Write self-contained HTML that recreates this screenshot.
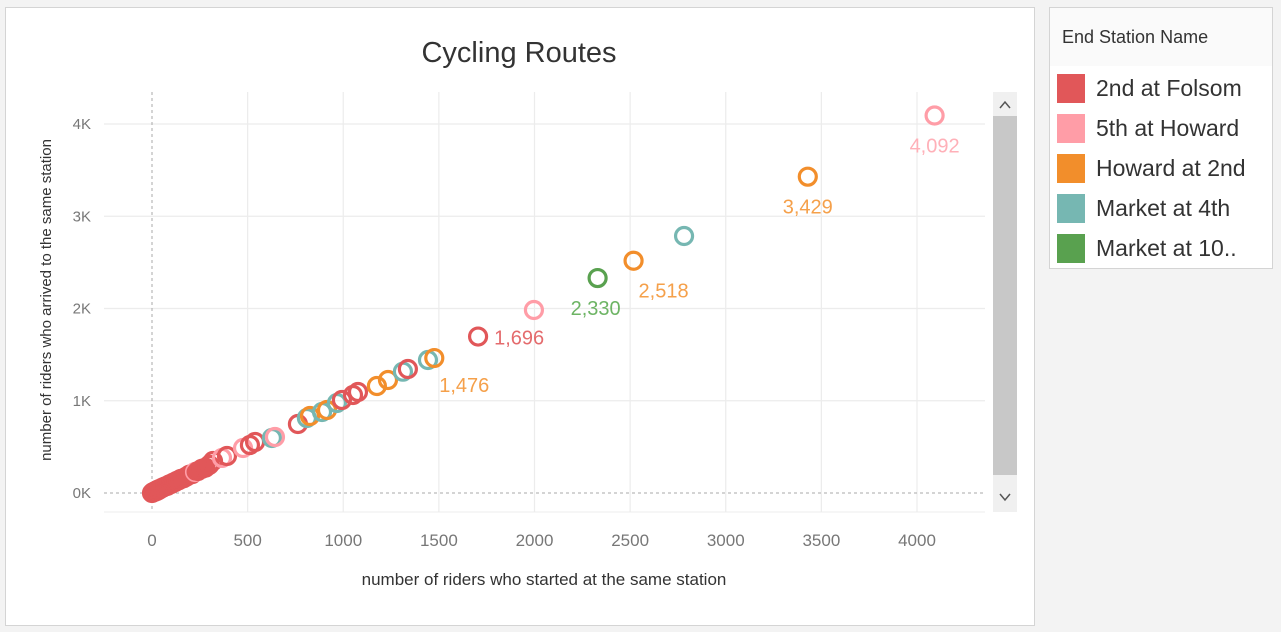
<!DOCTYPE html>
<html><head><meta charset="utf-8">
<style>
body{margin:0;width:1281px;height:632px;background:#f3f3f3;font-family:"Liberation Sans Narrow","Liberation Sans",sans-serif;overflow:hidden;position:relative}
#panel{position:absolute;left:5px;top:7px;width:1028px;height:617px;background:#fff;border:1px solid #d4d4d4}
#legend{position:absolute;left:1049px;top:7px;width:222px;height:260px;background:#fff;border:1px solid #d4d4d4}
</style></head><body>
<div id="panel"></div>
<svg width="1281" height="632" style="position:absolute;left:0;top:0" id="chart">
<text x="519" y="62" text-anchor="middle" font-size="29" fill="#333">Cycling Routes</text>
<g id="grid"></g><g id="marks"></g><g id="labels"></g>
<text transform="translate(51,300) rotate(-90)" text-anchor="middle" font-size="15" fill="#333">number of riders who arrived to the same station</text>
<text x="544" y="585" text-anchor="middle" font-size="17" fill="#333">number of riders who started at the same station</text>
<g>
<rect x="993" y="92" width="24" height="420" fill="#f0f0f0"/>
<rect x="993" y="116" width="24" height="359" fill="#c8c8c8"/>
<path d="M1000 108 L1005 102 L1010 108" stroke="#555" stroke-width="1.5" fill="none"/>
<path d="M1000 494 L1005 500 L1010 494" stroke="#555" stroke-width="1.5" fill="none"/>
</g>
</svg>
<div id="legend">
<div style="position:absolute;left:0;top:0;width:222px;height:58px;background:#fafafa"></div>
<div style="position:absolute;left:12px;top:19px;font-size:18px;color:#333">End Station Name</div>
<div id="legitems"></div>
</div>
<script>
const stations=["2nd at Folsom","5th at Howard","Howard at 2nd","Market at 4th","Market at 10.."];
const colors=["#e15759","#ff9da7","#f28e2b","#76b7b2","#59a14f"];
const labelColors=["#e46b6d","#ffb0b8","#f5a04a","#8fc4bf","#6db464"];
const startCounts=[0,5,10,15,20,25,30,35,40,45,50,55,60,70,80,90,100,110,120,130,140,150,165,180,195,210,225,240,260,280,300,319,366,392,476,512,539,627,643,763,810,826,889,915,967,993,1051,1077,1176,1234,1312,1338,1443,1476,1705,1997,2330,2518,2782,3429,4092];
const arriveCounts=[0,8,12,14,25,22,35,33,42,48,52,58,62,72,78,92,98,112,118,132,138,152,160,178,198,205,228,238,262,275,305,347,380,401,488,520,553,596,607,748,813,835,878,900,976,1008,1062,1095,1160,1225,1315,1344,1442,1463,1696,1984,2330,2518,2786,3429,4092];
const stationIdx=[0,0,0,0,0,0,0,0,0,0,0,0,0,0,0,0,0,0,0,0,0,0,0,0,0,0,1,0,0,0,0,0,1,0,1,0,0,3,1,0,3,2,3,2,3,0,0,0,2,2,3,0,3,2,0,1,4,2,3,2,1];
const labeled=[1705,2330,2518,3429,4092,1476];
const labelText=["1,696","2,330","2,518","3,429","4,092","1,476"];
const labelDx=[16,-2,30,0,0,30],labelDy=[8,37,37,37,37,34],labelAnchor=["start","middle","middle","middle","middle","middle"];
const xTicks=[0,500,1000,1500,2000,2500,3000,3500,4000];
const yTicks=[0,1000,2000,3000,4000];
const yTickLabels=["0K","1K","2K","3K","4K"];
const X=v=>152+v*0.19125, Y=v=>493-v*0.09225;
const NS="http://www.w3.org/2000/svg";
function mk(t,a,p){const e=document.createElementNS(NS,t);for(const k in a)e.setAttribute(k,a[k]);p.appendChild(e);return e;}
const grid=document.getElementById('grid');
xTicks.forEach((t,i)=>{
 if(t>0){const l=mk('line',{x1:X(t),x2:X(t),y1:92,y2:512,stroke:'#ececec','stroke-width':1.2},grid);
 }
 const tx=mk('text',{x:X(t),y:546,'text-anchor':'middle','font-size':17,fill:'#777'},grid);tx.textContent=t;
 
});
yTicks.forEach((t,i)=>{
 if(t>0){const l=mk('line',{x1:104,x2:985,y1:Y(t),y2:Y(t),stroke:'#ececec','stroke-width':1.2},grid);
 }
 const tx=mk('text',{x:91,y:Y(t)+5,'text-anchor':'end','font-size':15,fill:'#777'},grid);tx.textContent=yTickLabels[i];
 
});
mk('line',{x1:104,x2:985,y1:512,y2:512,stroke:'#ececec'},grid);
const z1=mk('line',{x1:X(0),x2:X(0),y1:92,y2:512,stroke:'#aaa','stroke-dasharray':'3,3'},grid);

const z2=mk('line',{x1:104,x2:985,y1:Y(0),y2:Y(0),stroke:'#aaa','stroke-dasharray':'3,3'},grid);

const marks=document.getElementById('marks');
startCounts.forEach((s,i)=>{
 const c=mk('circle',{cx:X(s),cy:Y(arriveCounts[i]),r:8.5,fill:'none',stroke:colors[stationIdx[i]],'stroke-width':3.2},marks);
 
 
 if(s<300){mk('circle',{cx:X(s),cy:Y(arriveCounts[i]),r:8.5,fill:colors[0]},marks);}
});
const lab=document.getElementById('labels');
labeled.forEach((s,j)=>{
 const i=startCounts.indexOf(s);
 const t=mk('text',{x:X(s)+labelDx[j],y:Y(arriveCounts[i])+labelDy[j],'text-anchor':labelAnchor[j],'font-size':20,fill:labelColors[stationIdx[i]]},lab);
 t.textContent=labelText[j];
 
});
const li=document.getElementById('legitems');
stations.forEach((s,i)=>{
 const d=document.createElement('div');
 d.style.cssText=`position:absolute;left:7px;top:${66+i*40}px;height:30px;width:210px`;
 d.innerHTML=`<div style="position:absolute;left:0;top:0;width:28px;height:29px;background:${colors[i]}"></div><div style="position:absolute;left:39px;top:1px;font-size:23px;color:#333;white-space:nowrap">${s}</div>`;
 
 
 li.appendChild(d);
});
</script>
</body></html>
